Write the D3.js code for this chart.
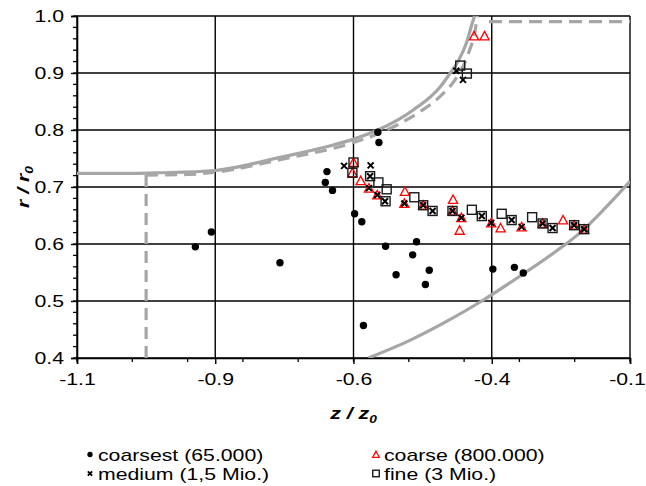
<!DOCTYPE html>
<html><head><meta charset="utf-8">
<script src="https://cdn.jsdelivr.net/npm/d3@7/dist/d3.min.js"></script>
<style>
body{margin:0;background:#fff}
text{font-family:"Liberation Sans",Arial,sans-serif;fill:#000}
</style>
</head><body>
<svg id="chart" width="646" height="486"></svg>
<script>
// ---------- data ----------
const xTickValues = [-1.1, -0.85, -0.6, -0.35, -0.1];
const xTickLabels = ["-1.1", "-0.9", "-0.6", "-0.4", "-0.1"];
const yTickValues = [0.4, 0.5, 0.6, 0.7, 0.8, 0.9, 1.0];
const yTickLabels = ["0.4", "0.5", "0.6", "0.7", "0.8", "0.9", "1.0"];

const coarsestZ = [-0.886,-0.857,-0.733,-0.648,-0.651,-0.638,-0.598,-0.585,-0.556,-0.554,-0.542,-0.486,-0.493,-0.463,-0.523,-0.470,-0.348,-0.309,-0.293,-0.582];
const coarsestR = [0.595,0.621,0.567,0.727,0.708,0.694,0.653,0.639,0.796,0.778,0.596,0.604,0.581,0.554,0.546,0.529,0.556,0.559,0.549,0.457];

const coarseZ = [-0.600,-0.602,-0.587,-0.572,-0.557,-0.507,-0.508,-0.474,-0.420,-0.421,-0.405,-0.408,-0.351,-0.334,-0.296,-0.258,-0.221,-0.201,-0.183,-0.382,-0.363];
const coarseR = [0.743,0.725,0.711,0.698,0.686,0.692,0.671,0.668,0.678,0.658,0.646,0.624,0.637,0.628,0.630,0.636,0.642,0.633,0.626,0.965,0.965];

const mediumZ = [-0.617,-0.569,-0.570,-0.572,-0.557,-0.543,-0.508,-0.474,-0.457,-0.421,-0.405,-0.368,-0.351,-0.314,-0.296,-0.258,-0.240,-0.201,-0.183,-0.414,-0.402];
const mediumR = [0.737,0.738,0.719,0.698,0.686,0.675,0.671,0.668,0.658,0.658,0.646,0.649,0.637,0.642,0.630,0.636,0.628,0.633,0.626,0.904,0.888];

const fineZ = [-0.600,-0.602,-0.570,-0.555,-0.540,-0.542,-0.490,-0.474,-0.457,-0.421,-0.386,-0.368,-0.332,-0.314,-0.277,-0.258,-0.240,-0.201,-0.183,-0.407,-0.395];
const fineR = [0.743,0.725,0.719,0.708,0.696,0.675,0.682,0.668,0.658,0.658,0.660,0.649,0.653,0.642,0.647,0.636,0.628,0.633,0.626,0.913,0.899];

// boundary curves
const upperSolidZ = [-1.1,-1.0,-0.95,-0.85,-0.733,-0.647,-0.6,-0.558,-0.492,-0.443,-0.425,-0.410,-0.395,-0.386,-0.381];
const upperSolidR = [0.724,0.724,0.725,0.729,0.752,0.771,0.784,0.799,0.835,0.876,0.900,0.922,0.955,0.985,1.0];
const upperDashVZ = [-0.975,-0.975];
const upperDashVR = [0.4,0.721];
const upperDashZ = [-0.975,-0.9,-0.85,-0.733,-0.6,-0.54,-0.48,-0.44,-0.415,-0.392,-0.380,-0.376];
const upperDashR = [0.721,0.722,0.726,0.748,0.778,0.800,0.832,0.862,0.890,0.935,0.975,1.0];
const topDashZ = [-0.355,-0.1];
const topDashR = [0.99,0.99];
const lowerSolidZ = [-0.573,-0.50,-0.43,-0.368,-0.30,-0.227,-0.19,-0.145,-0.1];
const lowerSolidR = [0.400,0.430,0.465,0.500,0.543,0.592,0.620,0.663,0.710];

const legendLabels = ["coarsest (65.000)","coarse (800.000)","medium (1,5 Mio.)","fine (3 Mio.)"];

// ---------- layout ----------
const svg = d3.select("#chart");
const L = 77, R = 630, T = 16, B = 358;
const x = d3.scaleLinear().domain([-1.1,-0.1]).range([L,R]);
const y = d3.scaleLinear().domain([0.4,1.0]).range([B,T]);
const GRAY = "#a6a6a6";
const FS = 17, SX = 1.25;

// grid
const grid = svg.append("g");
grid.selectAll(".gx").data(xTickValues).join("line")
  .attr("x1",d=>x(d)).attr("x2",d=>x(d)).attr("y1",T).attr("y2",B)
  .attr("stroke","#000").attr("stroke-width",1.4);
grid.selectAll(".gy").data(yTickValues).join("line")
  .attr("x1",L).attr("x2",R).attr("y1",d=>y(d)).attr("y2",d=>y(d))
  .attr("stroke","#000").attr("stroke-width",1.4);

// minor ticks
const xMinor = d3.range(0,11).map(i=>-1.1+i*0.1);
svg.append("g").selectAll("line").data(xMinor).join("line")
  .attr("x1",d=>x(d)).attr("x2",d=>x(d)).attr("y1",B).attr("y2",B+4)
  .attr("stroke","#000").attr("stroke-width",1.3);
const yMinor = d3.range(0,31).map(i=>0.4+i*0.02);
svg.append("g").selectAll("line").data(yMinor).join("line")
  .attr("x1",L-4).attr("x2",L).attr("y1",d=>y(d)).attr("y2",d=>y(d))
  .attr("stroke","#000").attr("stroke-width",1.3);

// axes
const xAxis = d3.axisBottom(x).tickValues(xTickValues).tickSize(6).tickPadding(5)
  .tickFormat((d,i)=>xTickLabels[i]);
const gx = svg.append("g").attr("transform",`translate(0,${B})`).call(xAxis);
const yAxis = d3.axisLeft(y).tickValues(yTickValues).tickSize(6).tickPadding(6)
  .tickFormat((d,i)=>yTickLabels[i]);
const gy = svg.append("g").attr("transform",`translate(${L},0)`).call(yAxis);
[gx,gy].forEach(g=>{
  g.select(".domain").attr("stroke","#000").attr("stroke-width",1.6);
  g.selectAll(".tick line").attr("stroke","#000").attr("stroke-width",1.4);
  g.selectAll(".tick text").attr("font-size",FS).attr("font-family","Liberation Sans, Arial, sans-serif").attr("fill","#000");
});
gx.selectAll(".tick text")
  .attr("transform",(d,i)=>`translate(${i===xTickValues.length-1?-3:0},0) scale(${SX},1)`)
  .attr("x",0).attr("y",0).attr("dy","1.6em");
gy.selectAll(".tick text").attr("transform",`translate(-13,0) scale(${SX},1)`).attr("x",0);

// boundary curves (clipped to plot area)
svg.append("clipPath").attr("id","clip").append("rect")
  .attr("x",L).attr("y",T-1).attr("width",R-L).attr("height",B-T+1);
const cg = svg.append("g").attr("clip-path","url(#clip)");
const lineM = d3.line().x(d=>x(d[0])).y(d=>y(d[1])).curve(d3.curveMonotoneX);
const lineL = d3.line().x(d=>x(d[0])).y(d=>y(d[1]));
const zipP = (a,b)=>a.map((v,i)=>[v,b[i]]);
cg.append("path").attr("d",lineL(zipP(upperDashVZ,upperDashVR)))
  .attr("fill","none").attr("stroke",GRAY).attr("stroke-width",3.2).attr("stroke-dasharray","12,7");
cg.append("path").attr("d",lineM(zipP(upperDashZ,upperDashR)))
  .attr("fill","none").attr("stroke",GRAY).attr("stroke-width",3.2).attr("stroke-dasharray","12,7");
cg.append("path").attr("d",lineL(zipP(topDashZ,topDashR)))
  .attr("fill","none").attr("stroke",GRAY).attr("stroke-width",3.2).attr("stroke-dasharray","13,7");
cg.append("path").attr("d",lineM(zipP(upperSolidZ,upperSolidR)))
  .attr("fill","none").attr("stroke",GRAY).attr("stroke-width",3.2);
cg.append("path").attr("d",lineM(zipP(lowerSolidZ,lowerSolidR)))
  .attr("fill","none").attr("stroke",GRAY).attr("stroke-width",3.2);

// markers
const sym = {
  dot: (g,cx,cy,s)=>g.append("circle").attr("cx",cx).attr("cy",cy).attr("r",3.7*s).attr("fill","#000"),
  tri: (g,cx,cy,s)=>{const h=4.6*s; g.append("path")
      .attr("d",`M${cx},${cy-h}L${cx+h},${cy+h*0.85}L${cx-h},${cy+h*0.85}Z`)
      .attr("fill","none").attr("stroke","#ff0000").attr("stroke-width",1.3);},
  cross: (g,cx,cy,s)=>{const a=3*s; g.append("path")
      .attr("d",`M${cx-a},${cy-a}L${cx+a},${cy+a}M${cx-a},${cy+a}L${cx+a},${cy-a}`)
      .attr("stroke","#000").attr("stroke-width",2*Math.min(1,s+0.2));},
  box: (g,cx,cy,s)=>{const a=4.5*s; g.append("rect")
      .attr("x",cx-a).attr("y",cy-a).attr("width",2*a).attr("height",2*a)
      .attr("fill","none").attr("stroke","#1a1a1a").attr("stroke-width",1.4);}
};
const mg = svg.append("g");
coarsestZ.forEach((z,i)=>sym.dot(mg,x(z),y(coarsestR[i]),1));
coarseZ.forEach((z,i)=>sym.tri(mg,x(z),y(coarseR[i]),1));
mediumZ.forEach((z,i)=>sym.cross(mg,x(z),y(mediumR[i]),1));
fineZ.forEach((z,i)=>sym.box(mg,x(z),y(fineR[i]),1));

// axis titles
const xt = svg.append("text").attr("transform",`translate(${(L+R)/2},419) scale(${SX},1)`)
  .attr("text-anchor","middle").attr("font-size",17).attr("font-weight","bold").attr("font-style","italic");
xt.append("tspan").text("z / z");
xt.append("tspan").attr("font-size",11).attr("dy",4).text("0");
const yt = svg.append("text").attr("transform",`translate(29,${(T+B)/2}) rotate(-90) scale(${SX},1)`)
  .attr("text-anchor","middle").attr("font-size",17).attr("font-weight","bold").attr("font-style","italic");
yt.append("tspan").text("r / r");
yt.append("tspan").attr("font-size",11).attr("dy",4).text("0");

// legend
const lg = svg.append("g");
const legPos = [[90,455],[376,455],[90,474],[376,474]];
const legSym = ["dot","tri","cross","box"];
legPos.forEach((p,i)=>{
  sym[legSym[i]](lg,p[0],p[1]-0.5,0.72);
  lg.append("text").attr("transform",`translate(${p[0]+8},${p[1]+6}) scale(${SX},1)`)
    .attr("font-size",FS).text(legendLabels[i]);
});
</script>
</body></html>
